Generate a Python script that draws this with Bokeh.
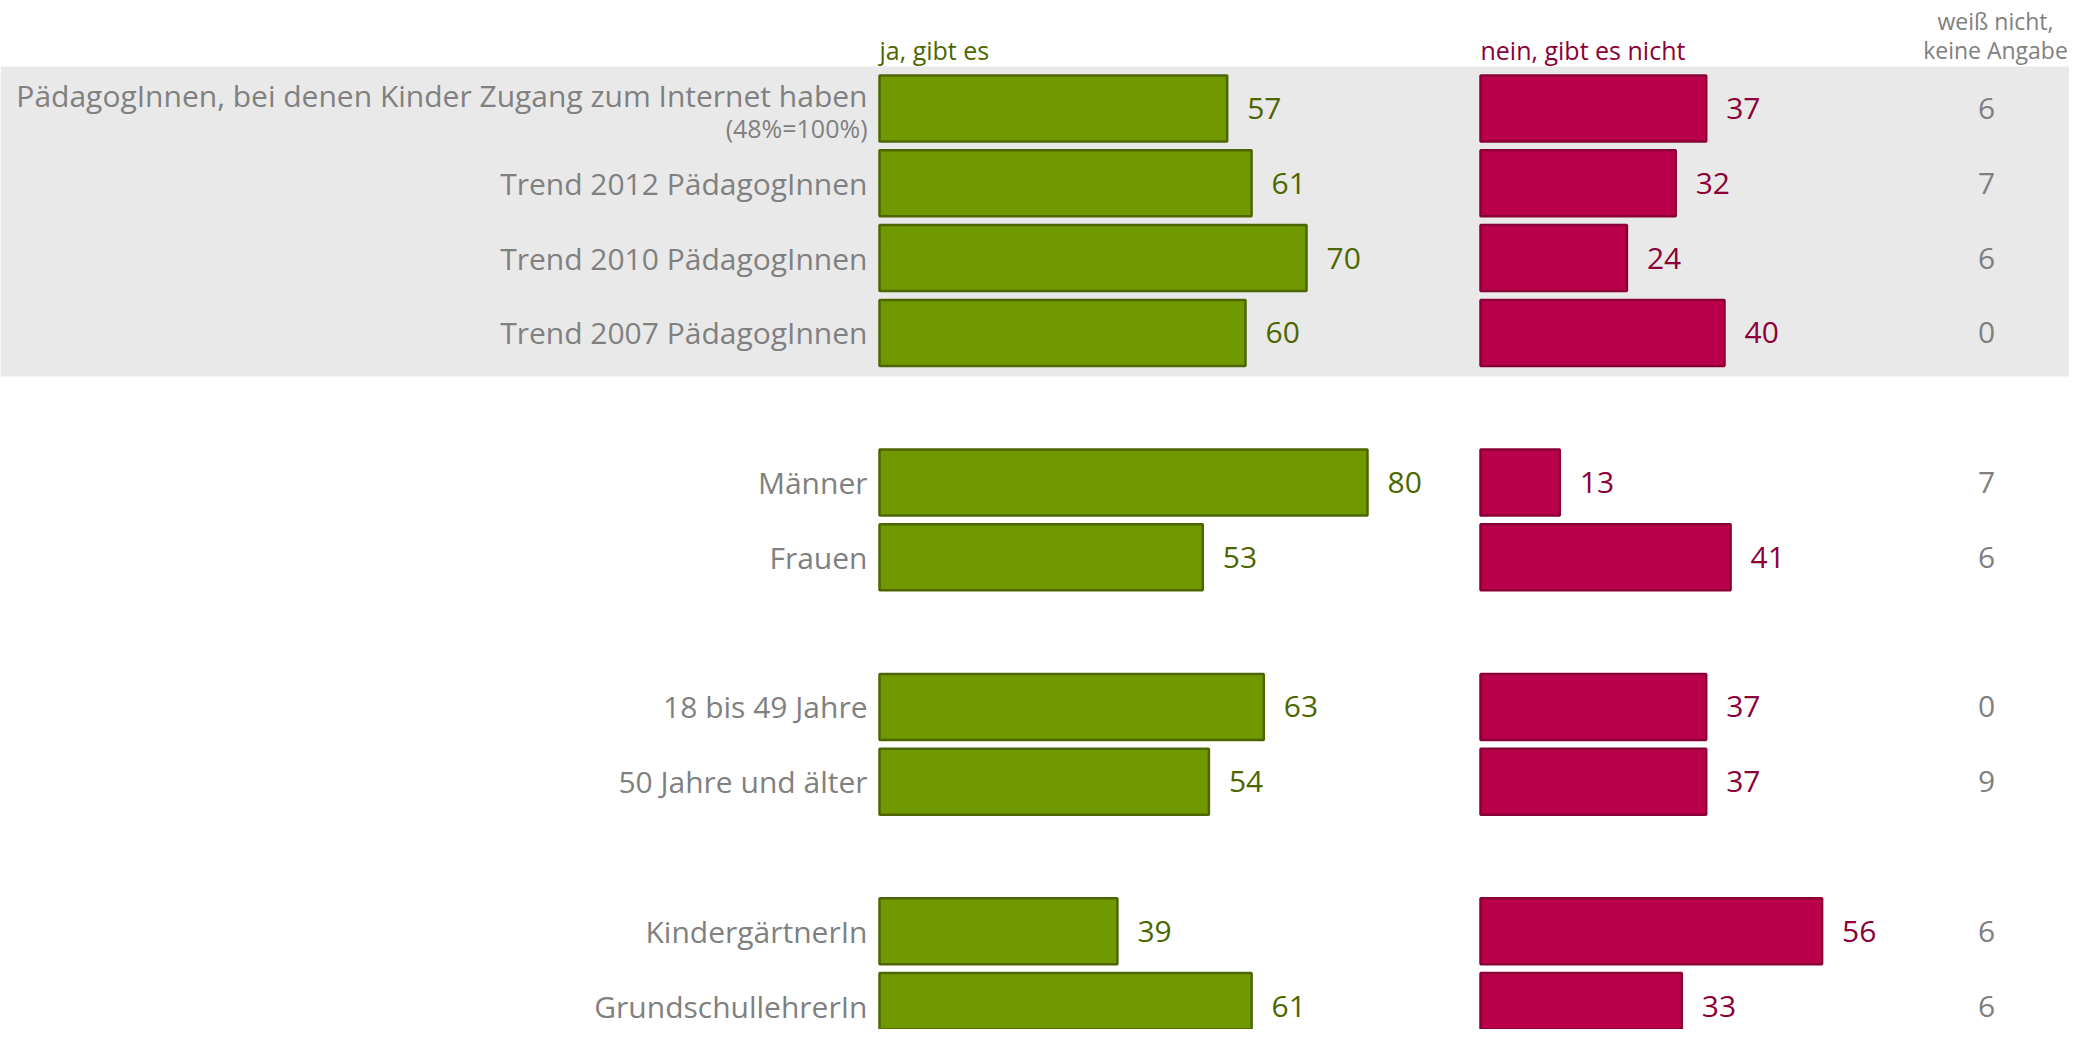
from bokeh.plotting import figure
from bokeh.models import ColumnDataSource, Range1d, BoxAnnotation
from bokeh.core.properties import value
from bokeh.embed import file_html
from bokeh.resources import INLINE

categories = ["PädagogInnen, bei denen Kinder Zugang zum Internet haben",
              "Trend 2012 PädagogInnen", "Trend 2010 PädagogInnen", "Trend 2007 PädagogInnen",
              "Männer", "Frauen", "18 bis 49 Jahre", "50 Jahre und älter",
              "KindergärtnerIn", "GrundschullehrerIn"]
ja = [57, 61, 70, 60, 80, 53, 63, 54, 39, 61]
nein = [37, 32, 24, 40, 13, 41, 37, 37, 56, 33]
weiss = [6, 7, 6, 0, 7, 6, 0, 9, 6, 6]
rows = [0, 1, 2, 3, 5, 6, 8, 9, 11, 12]
header_ja = "ja, gibt es"
header_nein = "nein, gibt es nicht"
header_weiss = ["weiß nicht,", "keine Angabe"]
base_note = "(48%=100%)"

W, H = 2069, 1029
PXU = 6.1
X0 = 879
RED0 = (1480 - X0) / PXU
WCOL = (1986 - X0) / PXU
YU = 74.8
Y0 = 108

FONT = value("Open Sans")
GREEN, GREEN_D, GREEN_T = "#709900", "#4d6600", "#4d6600"
RED, RED_D, RED_T = "#bb004b", "#8a0036", "#8b0036"
GRAY = "#808080"

p = figure(width=W, height=H, output_backend="svg", toolbar_location=None,
           x_range=Range1d(-X0 / PXU, (W - X0) / PXU),
           y_range=Range1d((H - Y0) / YU, -Y0 / YU),
           min_border=0, outline_line_color=None, background_fill_color="white")
p.axis.visible = False
p.grid.visible = False

p.add_layout(BoxAnnotation(top=(66 - Y0) / YU, bottom=(376 - Y0) / YU,
                           fill_color="#e9e9e9", fill_alpha=1, line_color=None, level="underlay"))

LX = (867 - X0) / PXU
src = ColumnDataSource(dict(
    y=rows, ja=ja, nein=nein, weiss=[str(v) for v in weiss],
    ja_lbl=[str(v) for v in ja], nein_lbl=[str(v) for v in nein],
    red_left=[RED0] * len(rows), red_right=[RED0 + v for v in nein],
    ja_tx=[v + 20 / PXU for v in ja], nein_tx=[RED0 + v + 20 / PXU for v in nein],
    wx=[WCOL] * len(rows),
    cat=categories, catx=[LX] * len(rows),
    caty=[r - (13 / YU if i == 0 else 0) for i, r in enumerate(rows)],
))

BH = 66 / YU
p.hbar(y="y", left=0, right="ja", height=BH, source=src,
       fill_color=GREEN, line_color=GREEN_D, line_width=2.5)
p.hbar(y="y", left="red_left", right="red_right", height=BH, source=src,
       fill_color=RED, line_color=RED_D, line_width=2.5)

p.text(x="ja_tx", y="y", text="ja_lbl", source=src, text_font=FONT, text_font_size="30px",
       text_color=GREEN_T, text_align="left", text_baseline="middle")
p.text(x="nein_tx", y="y", text="nein_lbl", source=src, text_font=FONT, text_font_size="30px",
       text_color=RED_T, text_align="left", text_baseline="middle")
p.text(x="wx", y="y", text="weiss", source=src, text_font=FONT, text_font_size="30px",
       text_color=GRAY, text_align="center", text_baseline="middle")
p.text(x="catx", y="caty", text="cat", source=src, text_font=FONT, text_font_size="30px",
       text_color=GRAY, text_align="right", text_baseline="middle")

p.text(x=[LX], y=[(127 - Y0) / YU], text=[base_note], text_font=FONT,
       text_font_size="25px", text_color=GRAY, text_align="right", text_baseline="middle")

hy = (49 - Y0) / YU
p.text(x=[0], y=[hy], text=[header_ja], text_font=FONT, text_font_size="25px",
       text_color=GREEN_T, text_align="left", text_baseline="middle")
p.text(x=[RED0], y=[hy], text=[header_nein], text_font=FONT, text_font_size="25px",
       text_color=RED_T, text_align="left", text_baseline="middle")
p.text(x=[(1995 - X0) / PXU] * 2, y=[(20 - Y0) / YU, hy], text=header_weiss, text_font=FONT,
       text_font_size="23px", text_color=GRAY, text_align="center", text_baseline="middle")

open("out.html", "w").write(file_html(p, INLINE))
